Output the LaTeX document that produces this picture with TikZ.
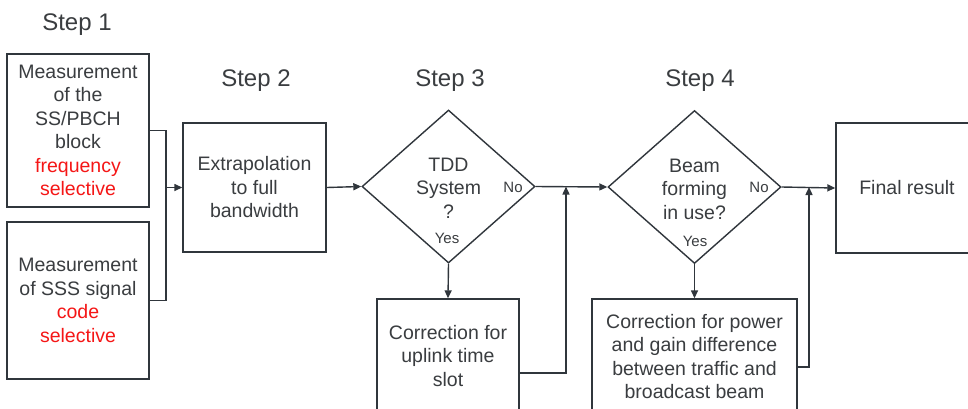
\documentclass[tikz,border=0pt]{standalone}
\usepackage{fontspec}
\setmainfont{Liberation Sans}
\usetikzlibrary{shapes.geometric,arrows.meta}
\definecolor{ln}{HTML}{30363C}
\definecolor{tx}{HTML}{3A3D40}
\definecolor{rd}{HTML}{F51616}
\tikzset{
  box/.style={draw=ln, line width=1.4pt, inner sep=2pt, align=center, text=tx,
    font=\fontsize{19.5}{23.5}\selectfont},
  dia/.style={draw=ln, line width=1.4pt, shape=diamond, inner sep=0pt,
    minimum width=173pt, minimum height=153pt},
  txt/.style={align=center, text=tx, inner sep=0pt, font=\fontsize{19.5}{23.5}\selectfont},
  small/.style={text=tx, inner sep=0pt, font=\fontsize{15}{17}\selectfont},
  steplbl/.style={text=tx, inner sep=0pt, anchor=base, font=\fontsize{24}{28}\selectfont},
  con/.style={draw=ln, line width=1.4pt},
  arr/.style={con, -{Triangle[length=8pt,width=7pt]}},
}
\begin{document}
\begin{tikzpicture}[x=1pt,y=-1pt]
\useasboundingbox (0,0) rectangle (968,408);
\clip (0,0) rectangle (968,408);
\fill[white] (0,0) rectangle (968,408);

\node[steplbl] (s1) at (77,30) {Step 1};
\node[steplbl] (s2) at (256,86) {Step 2};
\node[steplbl] (s3) at (450,86) {Step 3};
\node[steplbl] (s4) at (700,86) {Step 4};

\node[box, minimum width=142pt, minimum height=153pt] (b1) at (78,130.5)
  {Measurement\\of the\\SS/PBCH\\block\\\textcolor{rd}{frequency}\\\textcolor{rd}{selective}};
\node[box, minimum width=142pt, minimum height=157pt] (b2) at (78,300.5)
  {Measurement\\of SSS signal\\\textcolor{rd}{code}\\\textcolor{rd}{selective}};
\node[box, minimum width=143pt, minimum height=129pt] (b3) at (254.5,187.5)
  {Extrapolation\\to full\\bandwidth};
\node[dia] (d1) at (448.5,186.5) {};
\node[txt] (t1) at (448.5,188) {TDD\\System\\?};
\node[small] (y1) at (447,238) {Yes};
\node[small] (n1) at (513,187) {No};
\node[box, minimum width=142pt, minimum height=114pt] (b4) at (448,356)
  {Correction for\\uplink time\\slot};
\node[dia] (d2) at (694.5,187) {};
\node[txt] (t2) at (694.5,189) {Beam\\forming\\in use?};
\node[small] (y2) at (695,241) {Yes};
\node[small] (n2) at (759,187) {No};
\node[box, minimum width=205pt, minimum height=115pt] (b5) at (694.5,356.5)
  {Correction for power\\and gain difference\\between traffic and\\broadcast beam};
\node[box, minimum width=142pt, minimum height=130pt] (fin) at (907,188) {Final result};

\coordinate (j1) at (166,187.5);
\coordinate (j2) at (566,186.5);
\coordinate (j3) at (809,187);

\draw[con] (b1.east) -| (j1) |- (b2.east);
\draw[arr] (j1) -- (b3.west);
\draw[arr] (b3.east) -- (d1.west);
\draw[arr] (d1.east) -- (d2.west);
\draw[arr] (d1.south) -- (b4.north);
\draw[arr] ([yshift=-17pt]b4.east) -| (j2);
\draw[arr] (d2.east) -- (fin.west);
\draw[arr] (d2.south) -- (b5.north);
\draw[arr] ([yshift=-10.5pt]b5.east) -| (j3);
\end{tikzpicture}
\end{document}
